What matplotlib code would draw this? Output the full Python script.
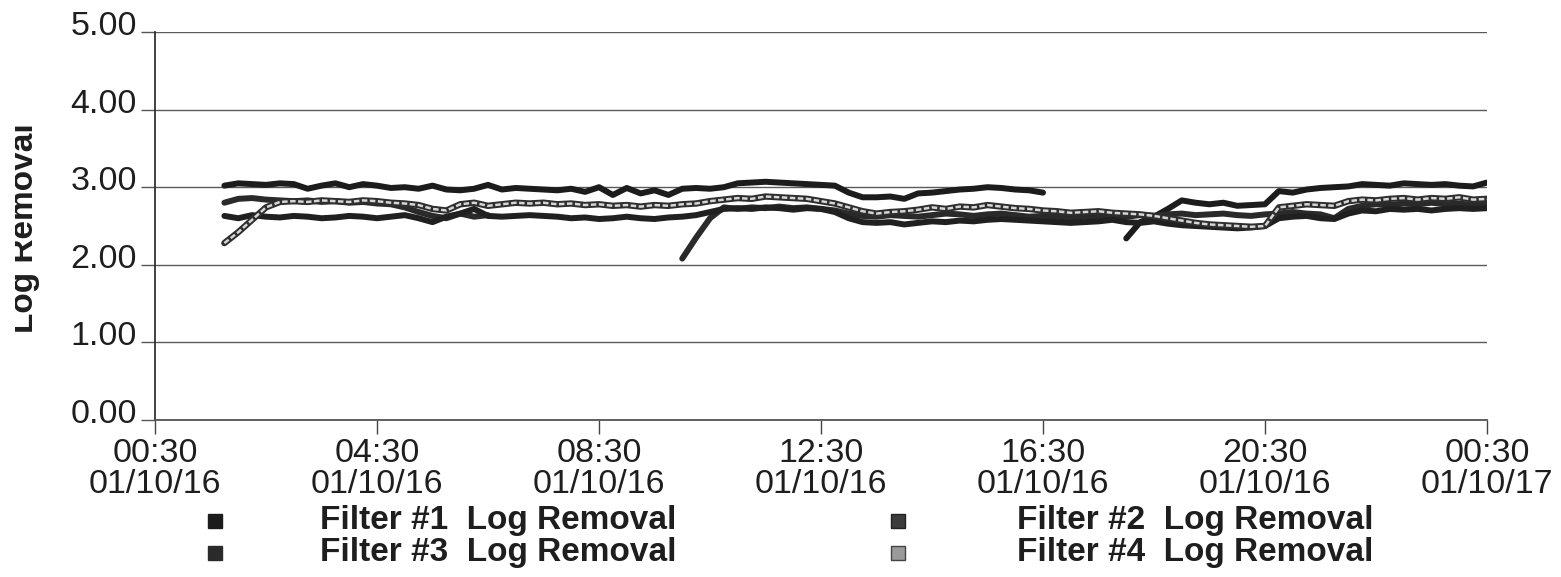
import numpy as np
import pandas as pd
import matplotlib
matplotlib.use("Agg")
import matplotlib.pyplot as plt
import matplotlib.dates as mdates
from matplotlib.transforms import ScaledTranslation, Bbox

plt.rcParams["font.family"] = ["Liberation Sans", "DejaVu Sans"]

nan = np.nan

# 15-minute readings, 01:45 on 2001-10-16 through 00:30 the next day
times = pd.date_range("2001-10-16 01:45", "2001-10-17 00:30", freq="15min")

filter1 = [
    3.02, 3.05, 3.04, 3.03, 3.05, 3.04, 2.98, 3.02,
    3.05, 3.00, 3.04, 3.02, 2.99, 3.00, 2.98, 3.02,
    2.97, 2.96, 2.98, 3.03, 2.97, 2.99, 2.98, 2.97,
    2.96, 2.98, 2.94, 3.00, 2.90, 2.99, 2.92, 2.96,
    2.90, 2.98, 2.99, 2.98, 3.00, 3.05, 3.06, 3.07,
    3.06, 3.05, 3.04, 3.03, 3.02, 2.93, 2.87, 2.87,
    2.88, 2.85, 2.92, 2.93, 2.95, 2.97, 2.98, 3.00,
    2.99, 2.97, 2.96, 2.93, nan, nan, nan, nan,
    nan, 2.34, 2.55, 2.62, 2.72, 2.83, 2.80, 2.78,
    2.80, 2.76, 2.77, 2.78, 2.95, 2.93, 2.97, 2.99,
    3.00, 3.01, 3.04, 3.03, 3.02, 3.05, 3.04, 3.03,
    3.04, 3.02, 3.01, 3.06,
]

filter2 = [
    2.80, 2.85, 2.86, 2.84, 2.83, 2.82, 2.83, 2.81,
    2.82, 2.80, 2.81, 2.79, 2.78, 2.74, 2.68, 2.63,
    2.60, 2.66, 2.62, 2.64, nan, nan, nan, nan,
    nan, nan, nan, nan, nan, nan, nan, nan,
    nan, 2.08, 2.35, 2.60, 2.74, 2.72, 2.74, 2.73,
    2.75, 2.73, 2.74, 2.72, 2.70, 2.66, 2.63, 2.62,
    2.64, 2.63, 2.62, 2.64, 2.66, 2.65, 2.63, 2.65,
    2.66, 2.64, 2.62, 2.63, 2.62, 2.60, 2.62, 2.63,
    2.61, 2.62, 2.64, 2.63, 2.65, 2.66, 2.64, 2.65,
    2.66, 2.64, 2.63, 2.65, 2.66, 2.68, 2.66, 2.65,
    2.60, 2.72, 2.76, 2.78, 2.77, 2.79, 2.78, 2.80,
    2.78, 2.79, 2.77, 2.78,
]

filter3 = [
    2.63, 2.60, 2.64, 2.62, 2.61, 2.63, 2.62, 2.60,
    2.61, 2.63, 2.62, 2.60, 2.62, 2.64, 2.60, 2.55,
    2.62, 2.66, 2.72, 2.63, 2.62, 2.63, 2.64, 2.63,
    2.62, 2.60, 2.61, 2.59, 2.60, 2.62, 2.60, 2.59,
    2.61, 2.62, 2.64, 2.68, 2.72, 2.73, 2.72, 2.74,
    2.73, 2.71, 2.73, 2.72, 2.68, 2.60, 2.55, 2.54,
    2.55, 2.52, 2.54, 2.56, 2.55, 2.57, 2.56, 2.58,
    2.59, 2.58, 2.57, 2.56, 2.55, 2.54, 2.55, 2.56,
    2.58, 2.55, 2.54, 2.56, 2.53, 2.51, 2.50, 2.49,
    2.48, 2.47, 2.48, 2.50, 2.60, 2.62, 2.63, 2.60,
    2.59, 2.66, 2.70, 2.69, 2.72, 2.71, 2.72, 2.70,
    2.72, 2.73, 2.72, 2.73,
]

filter4 = [
    2.28, 2.42, 2.58, 2.74, 2.81, 2.82, 2.81, 2.83,
    2.82, 2.81, 2.83, 2.82, 2.80, 2.79, 2.77, 2.72,
    2.70, 2.78, 2.80, 2.76, 2.78, 2.80, 2.79, 2.80,
    2.78, 2.79, 2.77, 2.78, 2.76, 2.77, 2.75, 2.77,
    2.76, 2.78, 2.79, 2.82, 2.84, 2.86, 2.85, 2.88,
    2.87, 2.86, 2.85, 2.82, 2.79, 2.74, 2.69, 2.66,
    2.68, 2.69, 2.71, 2.74, 2.72, 2.75, 2.74, 2.77,
    2.75, 2.73, 2.72, 2.70, 2.69, 2.67, 2.68, 2.69,
    2.67, 2.66, 2.65, 2.63, 2.60, 2.57, 2.54, 2.52,
    2.51, 2.50, 2.49, 2.50, 2.74, 2.76, 2.78, 2.77,
    2.76, 2.82, 2.84, 2.83, 2.85, 2.86, 2.84, 2.86,
    2.85, 2.87, 2.84, 2.85,
]

series_labels = [
    "Filter #1  Log Removal",
    "Filter #2  Log Removal",
    "Filter #3  Log Removal",
    "Filter #4  Log Removal",
]
y_ticks = [0, 1, 2, 3, 4, 5]
x_ticks = pd.date_range("2001-10-16 00:30", periods=7, freq="4h")

W, H = 1561, 577
fig = plt.figure(figsize=(W / 100, H / 100), dpi=100)
ax = fig.add_axes([155 / W, 1 - 420 / H, (1487 - 155) / W, (420 - 32) / H])

lw = 4.3
ax.plot(times, filter1, color="#1c1c1c", lw=lw, solid_capstyle="round",
        solid_joinstyle="round", zorder=3)
ax.plot(times, filter2, color="#2a2a2a", lw=lw, solid_capstyle="round",
        solid_joinstyle="round", zorder=3)
ax.plot(times, filter3, color="#202020", lw=lw, solid_capstyle="round",
        solid_joinstyle="round", zorder=3)
# hollow-looking trace: dark outline with a pale core
ax.plot(times, filter4, color="#2e2e2e", lw=lw + 0.3, solid_capstyle="round",
        solid_joinstyle="round", zorder=4)
ax.plot(times, filter4, color="#d6d6d6", lw=1.8, ls=(0, (2.2, 1.0)), zorder=5)

ax.set_xlim(x_ticks[0], x_ticks[-1])
ax.set_ylim(0, 5)
ax.set_yticks(y_ticks)
ax.yaxis.set_major_formatter(plt.FuncFormatter(lambda v, p: f"{v:.2f}"))
ax.set_xticks(x_ticks)
ax.xaxis.set_major_formatter(mdates.DateFormatter("%H:%M\n%y/%m/%d"))

ax.grid(axis="y", color="#5a5a5a", lw=1.0)
ax.set_axisbelow(True)
for s in ("top", "right"):
    ax.spines[s].set_visible(False)
ax.spines["left"].set_color("#333333")
ax.spines["left"].set_linewidth(1.3)
ax.spines["bottom"].set_color("#555555")
ax.spines["bottom"].set_linewidth(1.3)

ax.tick_params(axis="y", direction="out", length=10, width=1, color="#555555",
               labelsize=24.5, labelcolor="#1e1e1e", pad=3)
ax.tick_params(axis="x", direction="out", length=10, width=1, color="#444444",
               labelsize=24.5, labelcolor="#1e1e1e", pad=3)
for lab in ax.get_xticklabels():
    lab.set_linespacing(1.0)
shift = ScaledTranslation(0, 9 / 100, fig.dpi_scale_trans)
for lab in ax.get_yticklabels():
    lab.set_transform(lab.get_transform() + shift)

ylab = fig.text(40 / W, 1 - 228 / H, "Log Removal", rotation=90, ha="right",
                va="center", fontsize=24, fontweight="bold", color="#1e1e1e")
ylab.set_clip_box(Bbox.from_extents(15, 0, W, H))
ylab.set_clip_on(True)

# legend: two columns, square swatches well ahead of the labels
swatches = [("#1c1c1c", "#1c1c1c"), ("#3c3c3c", "#222222"),
            ("#2a2a2a", "#2a2a2a"), ("#9a9a9a", "#444444")]
slots = [(215, 320, 521), (898, 1017, 521), (215, 320, 553), (898, 1017, 553)]
for (face, edge), label, (mx, tx, ty) in zip(swatches, series_labels, slots):
    fig.add_artist(plt.Line2D([mx / W], [1 - ty / H], marker="s", markersize=10.5,
                              markerfacecolor=face, markeredgecolor=edge,
                              markeredgewidth=1.0, linestyle="none"))
    fig.text(tx / W, 1 - ty / H, label, ha="left", va="center", fontsize=24,
             fontweight="bold", color="#1e1e1e")

fig.savefig("out.png", dpi=100, facecolor="white")
